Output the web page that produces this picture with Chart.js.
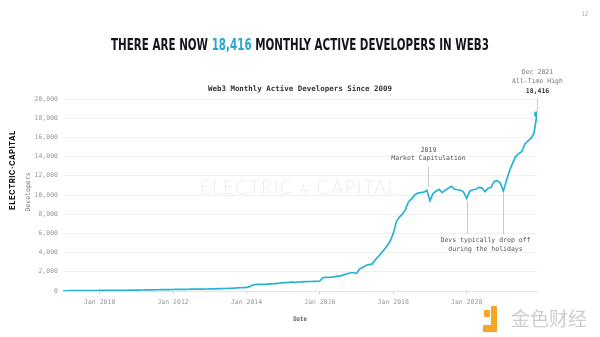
<!DOCTYPE html>
<html>
<head>
<meta charset="utf-8">
<script src="https://cdn.jsdelivr.net/npm/chart.js@4/dist/chart.umd.min.js"></script>
<style>
html, body { margin: 0; padding: 0; background: #fff; }
#wrap { position: relative; width: 600px; height: 337px; overflow: hidden; }
canvas { position: absolute; left: 0; top: 0; }
.txt { position: absolute; white-space: nowrap; line-height: 1; }
#headline { left: 300px; top: 37px; font-family: 'DejaVu Sans Condensed', 'DejaVu Sans', sans-serif; font-weight: bold; font-size: 16.5px; color: #15151f; }
#headline span { color: #2aa6d2; }
#chartTitle { left: 300px; top: 85px; font-family: 'DejaVu Sans Mono', monospace; font-weight: bold; font-size: 7.5px; color: #333; }
#watermark { left: 299px; top: 177px; font-family: 'Lato', 'Open Sans', sans-serif; font-weight: 300; font-size: 19px; color: #ededed; letter-spacing: 1px; }
#brand { left: 12px; top: 170px; font-family: 'Inter', 'Liberation Sans', sans-serif; font-weight: bold; font-size: 8px; color: #111; letter-spacing: 0.5px; }
#yTitle { left: 28px; top: 192px; font-family: 'DejaVu Sans Mono', monospace; font-size: 6.5px; color: #777; }
#xTitle { left: 300px; top: 316px; font-family: 'DejaVu Sans Mono', monospace; font-weight: bold; font-size: 6.5px; color: #666; }
#page { left: 585px; top: 11px; font-family: 'DejaVu Sans Mono', monospace; font-size: 6.5px; color: #aaa; }
#logoText { left: 511px; top: 308px; font-family: 'Noto Sans CJK SC', sans-serif; font-size: 19px; color: #cdcdcd; }
.logo { position: absolute; background: #f5a623; border-radius: 1px; }
</style>
</head>
<body>
<div id="wrap">
  <canvas id="devChart" width="600" height="337"></canvas>
  <div class="txt" id="headline">THERE ARE NOW <span>18,416</span> MONTHLY ACTIVE DEVELOPERS IN WEB3</div>
  <div class="txt" id="chartTitle">Web3 Monthly Active Developers Since 2009</div>
  <div class="txt" id="watermark">ELECTRIC ϟ CAPITAL</div>
  <div class="txt" id="brand">ELECTRIC·CAPITAL</div>
  <div class="txt" id="yTitle">Developers</div>
  <div class="txt" id="xTitle">Date</div>
  <div class="txt" id="page">12</div>
  <div class="logo" style="left:484px;top:310px;width:6px;height:7px;"></div>
  <div class="logo" style="left:491px;top:306px;width:6px;height:26px;"></div>
  <div class="logo" style="left:483px;top:325px;width:14px;height:7px;"></div>
  <div class="txt" id="logoText">金色财经</div>
</div>
<script>
// month index 0 = Jan 2009, one value per month up to Dec 2021
const startYear = 2009;
const developers = [
    20, 25, 30, 30, 35, 35, 40, 40, 45, 45, 50, 50,
    55, 55, 60, 60, 65, 65, 70, 70, 75, 80, 85, 90,
    95, 100, 105, 110, 115, 120, 125, 130, 135, 140, 145, 150,
    155, 160, 165, 170, 175, 180, 185, 190, 195, 200, 205, 210,
    215, 220, 230, 240, 250, 260, 270, 280, 300, 320, 340, 360,
    380, 450, 620, 680, 700, 690, 700, 720, 740, 760, 800, 820,
    870, 880, 900, 920, 900, 940, 960, 970, 980, 990, 1000, 1010,
    1040, 1390, 1420, 1430, 1450, 1500, 1550, 1600, 1700, 1800, 1900, 1900,
    1850, 2300, 2450, 2650, 2750, 2800, 3200, 3550, 3900, 4300, 4700, 5200,
    6000, 7200, 7700, 8000, 8500, 9300, 9600, 10000, 10200, 10250, 10300, 10500,
    9400, 10150, 10400, 10600, 10250, 10500, 10700, 10900, 10600, 10550, 10500, 10300,
    9650, 10400, 10550, 10600, 10800, 10750, 10350, 10700, 10800, 11400, 11500, 11250,
    10400, 11500, 12500, 13300, 14000, 14300, 14500, 15300, 15600, 15900, 16400, 18416
];
const tickMonths = [12, 36, 60, 84, 108, 132];
const tickLabels = ['Jan 2010', 'Jan 2012', 'Jan 2014', 'Jan 2016', 'Jan 2018', 'Jan 2020'];
const yTicks = [0, 2000, 4000, 6000, 8000, 10000, 12000, 14000, 16000, 18000, 20000];

const capitulationMonth = 120;
const holidayMonths = [132, 144];
const athMonth = developers.length - 1;

const lineColor = '#27b2d6';
const monoFont = '"DejaVu Sans Mono", monospace';

// squeeze the html texts to the widths seen in the picture
function fit(id, width, rotate) {
    const el = document.getElementById(id);
    const r = width / el.offsetWidth;
    el.style.transform = rotate
        ? `translate(-50%, -50%) rotate(-90deg) scaleX(${r})`
        : `translateX(-50%) scaleX(${r})`;
}
fit('headline', 378);
fit('chartTitle', 184);
fit('watermark', 198);
fit('brand', 80, true);
fit('xTitle', 14);
fit('page', 7);
document.getElementById('yTitle').style.transform = 'translate(-50%, -50%) rotate(-90deg)';

const notes = {
    id: 'notes',
    afterDatasetsDraw(chart) {
        const { ctx, scales: { x, y } } = chart;
        ctx.save();
        ctx.strokeStyle = '#c8c8c8';
        ctx.lineWidth = 1;
        ctx.fillStyle = '#555';
        ctx.font = '6.5px ' + monoFont;
        ctx.textAlign = 'center';
        ctx.textBaseline = 'middle';

        // 2019 capitulation
        const cx = Math.round(x.getPixelForValue(capitulationMonth - 0.5)) + 0.5;
        ctx.beginPath();
        ctx.moveTo(cx, y.getPixelForValue(12900));
        ctx.lineTo(cx, y.getPixelForValue(10800));
        ctx.stroke();
        ctx.fillText('2019', cx, y.getPixelForValue(14700));
        ctx.fillText('Market Capitulation', cx, y.getPixelForValue(13800));

        // holiday drops
        const hx = holidayMonths.map(m => Math.round(x.getPixelForValue(m)) + 0.5);
        hx.forEach((px, i) => {
            ctx.beginPath();
            ctx.moveTo(px, y.getPixelForValue(developers[holidayMonths[i]] - 300));
            ctx.lineTo(px, y.getPixelForValue(5950));
            ctx.stroke();
        });
        const mid = (hx[0] + hx[1]) / 2;
        ctx.fillText('Devs typically drop off', mid, y.getPixelForValue(5300));
        ctx.fillText('during the holidays', mid, y.getPixelForValue(4350));

        // all-time high
        const ax = Math.round(x.getPixelForValue(athMonth)) + 0.5;
        ctx.beginPath();
        ctx.moveTo(ax, y.getPixelForValue(20100));
        ctx.lineTo(ax, y.getPixelForValue(18700));
        ctx.stroke();
        ctx.fillStyle = '#777';
        ctx.fillText('Dec 2021', ax, y.getPixelForValue(22750));
        ctx.fillText('All-Time High', ax, y.getPixelForValue(21850));
        ctx.fillStyle = '#333';
        ctx.font = 'bold 6.5px ' + monoFont;
        ctx.fillText(developers[athMonth].toLocaleString('en-US'), ax, y.getPixelForValue(20850));
        ctx.restore();
    }
};

new Chart(document.getElementById('devChart'), {
    type: 'line',
    data: {
        datasets: [{
            data: developers.map((v, i) => ({ x: i, y: v })),
            borderColor: lineColor,
            backgroundColor: lineColor,
            borderWidth: 1.7,
            tension: 0,
            pointRadius: c => (c.dataIndex === athMonth ? 2.2 : 0),
            pointHoverRadius: 0
        }]
    },
    options: {
        responsive: false,
        animation: false,
        devicePixelRatio: 1,
        layout: { padding: { left: 0, right: 63, top: 99, bottom: 0 } },
        plugins: { legend: { display: false }, tooltip: { enabled: false } },
        scales: {
            x: {
                type: 'linear',
                min: 0,
                max: athMonth,
                afterBuildTicks: s => { s.ticks = tickMonths.map(v => ({ value: v })); },
                afterFit: s => { s.height = 46; },
                grid: { drawOnChartArea: false, tickLength: 3, color: '#cfcfcf' },
                border: { color: '#e3e3e3' },
                ticks: {
                    autoSkip: false,
                    maxRotation: 0,
                    padding: 4,
                    color: '#999',
                    font: { family: monoFont, size: 6.5 },
                    callback: v => tickLabels[tickMonths.indexOf(v)]
                }
            },
            y: {
                min: 0,
                max: 20000,
                afterBuildTicks: s => { s.ticks = yTicks.map(v => ({ value: v })); },
                afterFit: s => { s.width = 63; },
                grid: { color: '#f1f1f1', drawTicks: false },
                border: { display: false },
                ticks: {
                    padding: 5,
                    color: '#999',
                    font: { family: monoFont, size: 6.5 },
                    callback: v => v.toLocaleString('en-US')
                }
            }
        }
    },
    plugins: [notes]
});
</script>
</body>
</html>
